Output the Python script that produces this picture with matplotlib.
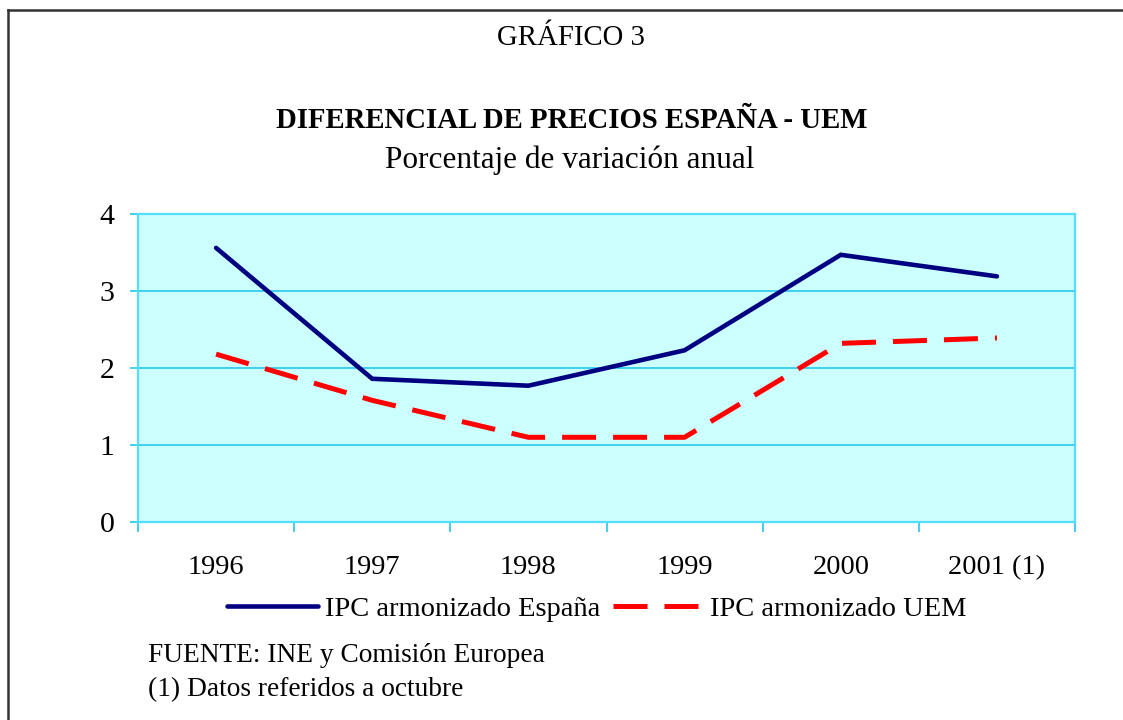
import matplotlib.pyplot as plt
from matplotlib.lines import Line2D

# --- data ---
years = ["1996", "1997", "1998", "1999", "2000", "2001 (1)"]
espana = [3.56, 1.86, 1.77, 2.23, 3.47, 3.19]
uem = [2.18, 1.58, 1.10, 1.10, 2.32, 2.39]
yticks = [0, 1, 2, 3, 4]

plt.rcParams['font.family'] = ['Liberation Serif', 'DejaVu Serif']

fig = plt.figure(figsize=(11.23, 7.2), dpi=100)
ax = fig.add_axes([138 / 1123, 1 - 522 / 720, (1075 - 138) / 1123, (522 - 214) / 720])

grid_c = '#33CCEE'
ax.set_facecolor('#CCFFFF')
x = list(range(len(years)))

ax.plot(x, espana, color='#000080', lw=3.3, solid_capstyle='round',
        solid_joinstyle='miter', label='IPC armonizado España', zorder=3)
ax.plot(x, uem, color='#FF0000', lw=3.6, dashes=(6.8, 3.4),
        dash_capstyle='butt', label='IPC armonizado UEM', zorder=3)

ax.set_xlim(-0.5, len(years) - 0.5)
ax.set_ylim(0, 4)
ax.set_yticks(yticks)
ax.set_yticklabels([str(v) for v in yticks])
ax.set_xticks([i - 0.5 for i in range(len(years) + 1)], minor=False)
ax.set_xticklabels([])
ax.set_xticks(x, minor=True)
ax.set_xticklabels(years, minor=True)
ax.yaxis.grid(True, color=grid_c, lw=1.3)
ax.set_axisbelow(True)

for s in ax.spines.values():
    s.set_color('#55DDFF')
    s.set_linewidth(1.6)

ax.tick_params(axis='x', which='major', direction='out', length=7.5,
               color=grid_c, width=1.3)
ax.tick_params(axis='x', which='minor', length=0, pad=24, labelsize=20.5)
ax.tick_params(axis='y', direction='out', length=6, color=grid_c, width=1.3,
               pad=11, labelsize=21.5)

# titles
fig.text(571 / 1123, 1 - 38 / 720, 'GRÁFICO 3', ha='center', va='center', fontsize=20.7)
fig.text(572 / 1123, 1 - 120 / 720, 'DIFERENCIAL DE PRECIOS ESPAÑA - UEM',
         ha='center', va='center', fontsize=20.7, fontweight='bold')
fig.text(570 / 1123, 1 - 160 / 720, 'Porcentaje de variación anual',
         ha='center', va='center', fontsize=22.5)

# legend
leg = fig.legend(loc='center', bbox_to_anchor=(597 / 1123, 1 - 609 / 720), ncol=2,
                 frameon=False, fontsize=20.5, handlelength=3.2, handletextpad=0.22,
                 columnspacing=0.45, borderpad=0)

# notes
fig.text(148 / 1123, 1 - 655 / 720, 'FUENTE: INE y Comisión Europea',
         ha='left', va='center', fontsize=19.7)
fig.text(148 / 1123, 1 - 690 / 720, '(1) Datos referidos a octubre',
         ha='left', va='center', fontsize=19.7)

# outer frame (top and left edges visible)
fig.add_artist(Line2D([8 / 1123, 1.0], [1 - 10 / 720, 1 - 10 / 720],
                      transform=fig.transFigure, color='#333333', lw=1.8))
fig.add_artist(Line2D([8 / 1123, 8 / 1123], [0, 1 - 10 / 720],
                      transform=fig.transFigure, color='#333333', lw=1.8))

fig.savefig('out.png', dpi=100)
